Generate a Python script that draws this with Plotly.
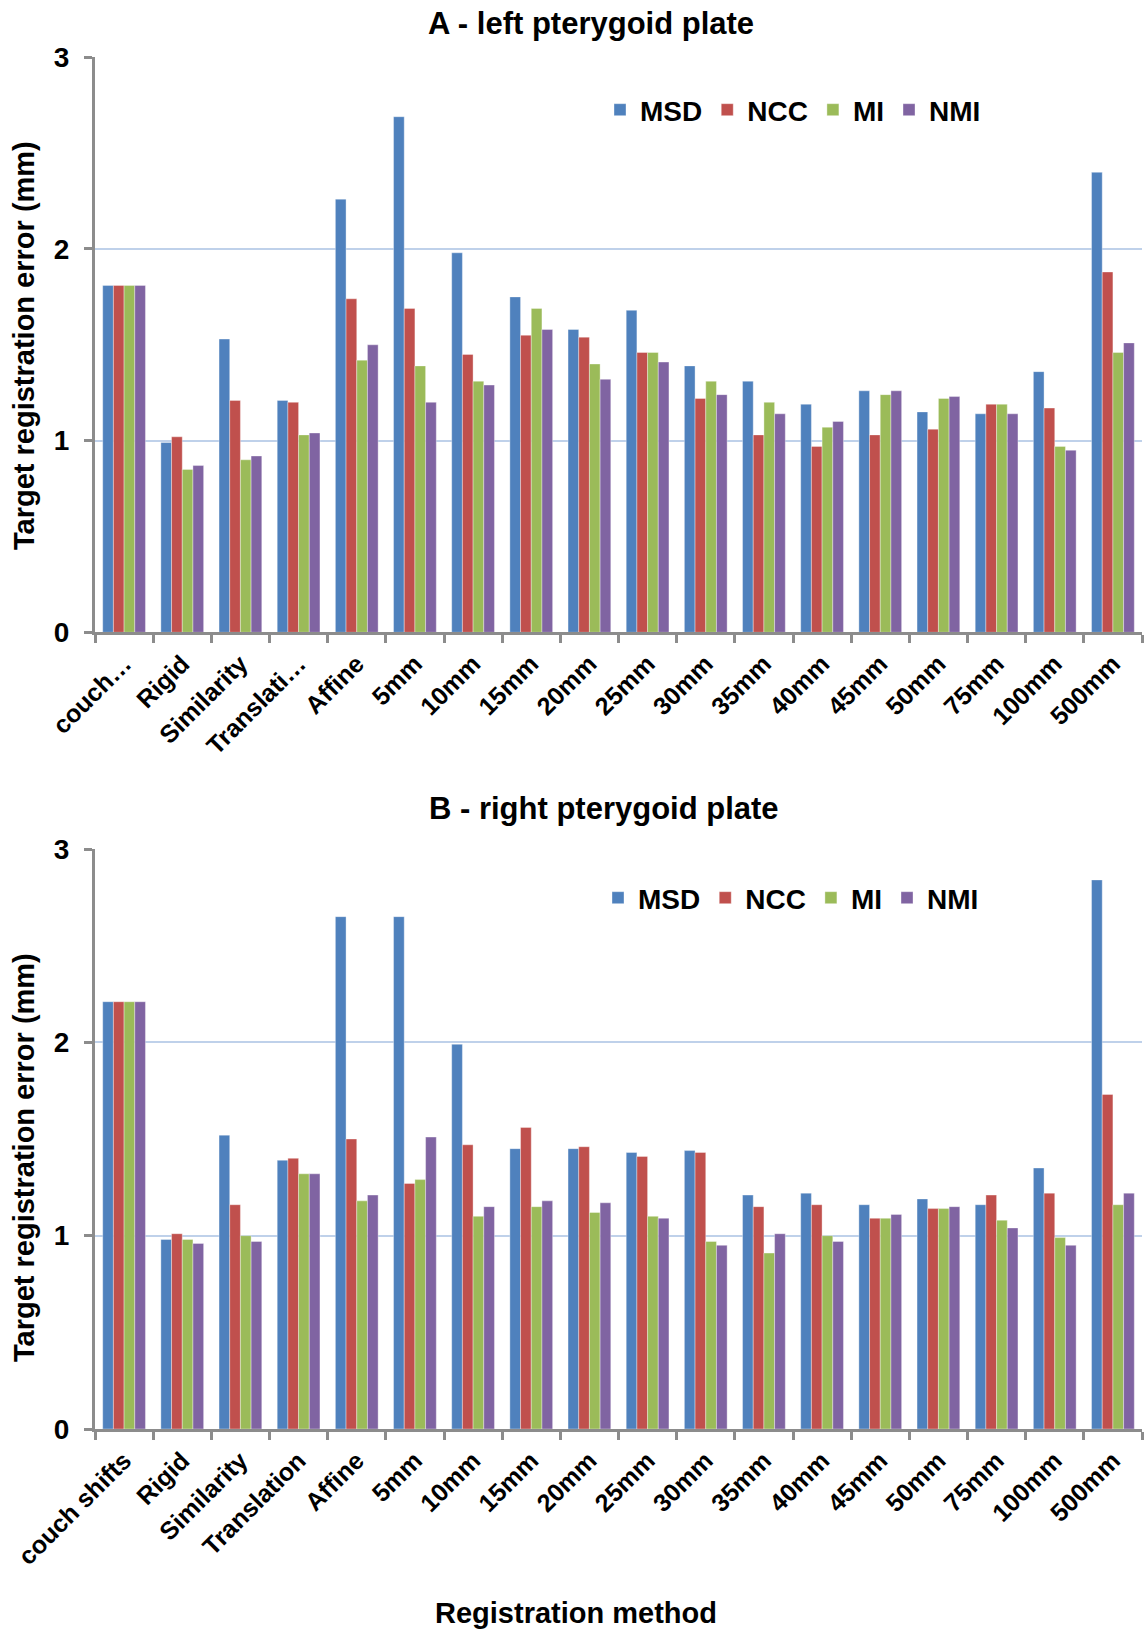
import plotly.graph_objects as go

categories = ["couch shifts", "Rigid", "Similarity", "Translation", "Affine", "5mm", "10mm",
              "15mm", "20mm", "25mm", "30mm", "35mm", "40mm", "45mm", "50mm", "75mm",
              "100mm", "500mm"]
labels_A = ["couch…", "Rigid", "Similarity", "Translati…", "Affine", "5mm", "10mm",
            "15mm", "20mm", "25mm", "30mm", "35mm", "40mm", "45mm", "50mm", "75mm",
            "100mm", "500mm"]
labels_B = categories

series_names = ["MSD", "NCC", "MI", "NMI"]
colors = ["#4f81bd", "#c0504d", "#9bbb59", "#8064a2"]

# Panel A - left pterygoid plate
A_MSD = [1.81, 0.99, 1.53, 1.21, 2.26, 2.69, 1.98, 1.75, 1.58, 1.68, 1.39, 1.31, 1.19, 1.26, 1.15, 1.14, 1.36, 2.40]
A_NCC = [1.81, 1.02, 1.21, 1.20, 1.74, 1.69, 1.45, 1.55, 1.54, 1.46, 1.22, 1.03, 0.97, 1.03, 1.06, 1.19, 1.17, 1.88]
A_MI  = [1.81, 0.85, 0.90, 1.03, 1.42, 1.39, 1.31, 1.69, 1.40, 1.46, 1.31, 1.20, 1.07, 1.24, 1.22, 1.19, 0.97, 1.46]
A_NMI = [1.81, 0.87, 0.92, 1.04, 1.50, 1.20, 1.29, 1.58, 1.32, 1.41, 1.24, 1.14, 1.10, 1.26, 1.23, 1.14, 0.95, 1.51]

# Panel B - right pterygoid plate
B_MSD = [2.21, 0.98, 1.52, 1.39, 2.65, 2.65, 1.99, 1.45, 1.45, 1.43, 1.44, 1.21, 1.22, 1.16, 1.19, 1.16, 1.35, 2.84]
B_NCC = [2.21, 1.01, 1.16, 1.40, 1.50, 1.27, 1.47, 1.56, 1.46, 1.41, 1.43, 1.15, 1.16, 1.09, 1.14, 1.21, 1.22, 1.73]
B_MI  = [2.21, 0.98, 1.00, 1.32, 1.18, 1.29, 1.10, 1.15, 1.12, 1.10, 0.97, 0.91, 1.00, 1.09, 1.14, 1.08, 0.99, 1.16]
B_NMI = [2.21, 0.96, 0.97, 1.32, 1.21, 1.51, 1.15, 1.18, 1.17, 1.09, 0.95, 1.01, 0.97, 1.11, 1.15, 1.04, 0.95, 1.22]

A_vals = [A_MSD, A_NCC, A_MI, A_NMI]
B_vals = [B_MSD, B_NCC, B_MI, B_NMI]

W, H = 1144, 1629
FONT = "Liberation Sans, Arial, sans-serif"
AXIS_GRAY = "#8c8c8c"
GRID = "#bfd1ea"

fig = go.Figure()
for name, col, vals in zip(series_names, colors, A_vals):
    fig.add_trace(go.Bar(x=categories, y=vals, name=name, marker_color=col,
                         marker_line_width=0.6, marker_line_color="rgba(255,255,255,0.6)",
                         xaxis="x", yaxis="y", legend="legend"))
for name, col, vals in zip(series_names, colors, B_vals):
    fig.add_trace(go.Bar(x=categories, y=vals, name=name, marker_color=col,
                         marker_line_width=0.6, marker_line_color="rgba(255,255,255,0.6)",
                         xaxis="x2", yaxis="y2", legend="legend2"))

def px_x(p):
    return p / W

def px_y(p):
    return 1 - p / H

xdom = [px_x(95), px_x(1142)]
common_x = dict(type="category", showline=True, linewidth=3, linecolor=AXIS_GRAY,
                ticks="outside", ticklen=8, tickwidth=3, tickcolor=AXIS_GRAY,
                tickson="boundaries", tickangle=-45, showgrid=False, automargin=False,
                ticklabelstandoff=4,
                tickfont=dict(family=FONT, size=25, color="black", weight="bold"),
                domain=xdom, categoryorder="array", categoryarray=categories)
common_y = dict(range=[0, 3], dtick=1, showline=True, linewidth=3, linecolor=AXIS_GRAY,
                ticks="outside", ticklen=8, tickwidth=3, tickcolor=AXIS_GRAY,
                showgrid=True, gridcolor=GRID, gridwidth=1.5, zeroline=False,
                ticklabelstandoff=9, automargin=False,
                tickfont=dict(family=FONT, size=28, color="black", weight="bold"))

fig.update_layout(
    width=W, height=H,
    margin=dict(l=0, r=0, t=0, b=0, autoexpand=False),
    paper_bgcolor="white", plot_bgcolor="white",
    barmode="group", bargap=0.265, bargroupgap=0,
    xaxis=dict(**common_x, anchor="y", tickvals=categories, ticktext=labels_A),
    yaxis=dict(**common_y, anchor="x", domain=[px_y(632.3), px_y(57.3)]),
    xaxis2=dict(**common_x, anchor="y2", tickvals=categories, ticktext=labels_B),
    yaxis2=dict(**common_y, anchor="x2", domain=[px_y(1429), px_y(849)]),
    legend=dict(orientation="h", x=px_x(600), xanchor="left", y=px_y(110), yanchor="middle",
                font=dict(family=FONT, size=28, color="black", weight="bold"),
                bgcolor="rgba(0,0,0,0)"),
    legend2=dict(orientation="h", x=px_x(598), xanchor="left", y=px_y(898), yanchor="middle",
                 font=dict(family=FONT, size=28, color="black", weight="bold"),
                 bgcolor="rgba(0,0,0,0)"),
)

ann_font = dict(family=FONT, size=29, color="black", weight="bold")
title_font = dict(family=FONT, size=31, color="black", weight="bold")
annotations = [
    dict(text="A - left pterygoid plate", x=px_x(591), y=px_y(24), xref="paper", yref="paper",
         xanchor="center", yanchor="middle", showarrow=False, font=title_font),
    dict(text="B - right pterygoid plate", x=px_x(604), y=px_y(808), xref="paper", yref="paper",
         xanchor="center", yanchor="middle", showarrow=False, font=title_font),
    dict(text="Target registration error (mm)", x=px_x(24), y=px_y(346), xref="paper", yref="paper",
         xanchor="center", yanchor="middle", textangle=-90, showarrow=False, font=ann_font),
    dict(text="Target registration error (mm)", x=px_x(24), y=px_y(1158), xref="paper", yref="paper",
         xanchor="center", yanchor="middle", textangle=-90, showarrow=False, font=ann_font),
    dict(text="Registration method", x=px_x(576), y=px_y(1613), xref="paper", yref="paper",
         xanchor="center", yanchor="middle", showarrow=False, font=ann_font),
]
fig.update_layout(annotations=annotations)

fig.write_html("out.html")
